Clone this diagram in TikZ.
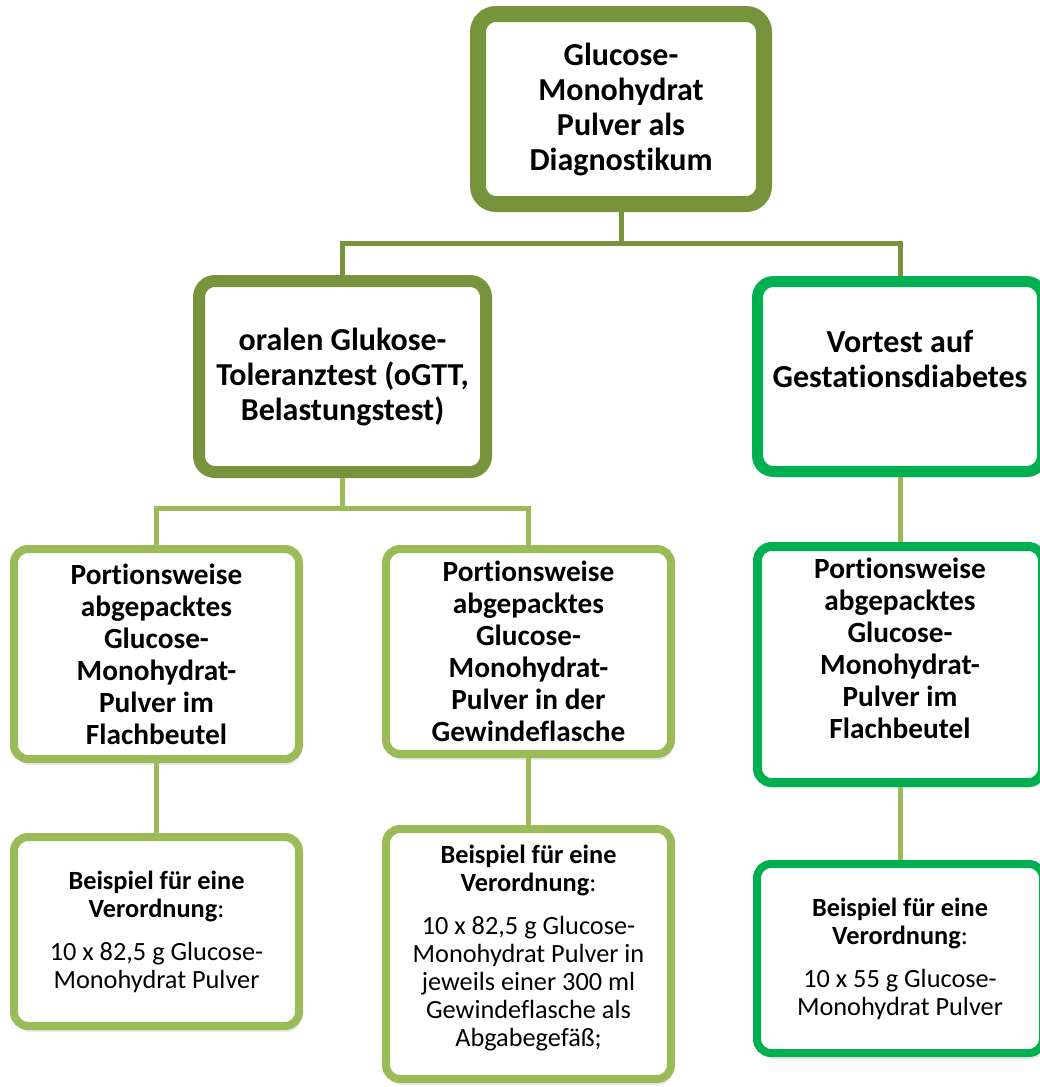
\documentclass[tikz,border=0pt]{standalone}
\usepackage{fontspec}
\setmainfont{Carlito}[Ligatures=NoCommon]
\usetikzlibrary{shadows}
\definecolor{oliveD}{HTML}{77933C}
\definecolor{oliveL}{HTML}{9BBB59}
\definecolor{greenG}{HTML}{00B050}
\newcommand{\hfont}{\fontsize{32}{35}\selectfont\bfseries}
\newcommand{\mfont}{\fontsize{29.3}{32}\selectfont\bfseries}
\newcommand{\sfont}{\fontsize{26.3}{28}\selectfont}
\tikzset{
  box/.style={draw, fill=white, rounded corners=#1, align=center, inner sep=0pt,
    drop shadow={shadow xshift=2pt, shadow yshift=-6pt, opacity=0.18}},
  connD/.style={draw=oliveD, line width=5pt},
  connL/.style={draw=oliveL, line width=5pt},
}
\begin{document}
\begin{tikzpicture}[x=1pt,y=-1pt]
\useasboundingbox (0,0) rectangle (1040,1087);
% level 1
\node[box=18pt, draw=oliveD, line width=16pt, minimum width=286pt, minimum height=190pt, font=\hfont]
  (top) at (621,109) {Glucose-\\Monohydrat\\Pulver als\\Diagnostikum};
% level 2
\node[box=16pt, draw=oliveD, line width=12pt, minimum width=287pt, minimum height=191pt, font=\hfont]
  (ogtt) at (342.5,376.5) {oralen Glukose-\\Toleranztest (oGTT,\\Belastungstest)};
\node[box=16pt, draw=greenG, line width=11pt, minimum width=285pt, minimum height=190pt, font=\hfont]
  (vor) at (900,376.5) {Vortest auf\\Gestationsdiabetes\\\mbox{}};
% level 3
\node[box=14pt, draw=oliveL, line width=8pt, minimum width=285pt, minimum height=210pt, font=\mfont]
  (r3l) at (156.5,654) {Portionsweise\\abgepacktes\\Glucose-\\Monohydrat-\\Pulver im\\Flachbeutel};
\node[box=14pt, draw=oliveL, line width=8pt, minimum width=285pt, minimum height=205pt, font=\mfont]
  (r3m) at (528.5,651.5) {Portionsweise\\abgepacktes\\Glucose-\\Monohydrat-\\Pulver in der\\Gewindeflasche};
\node[box=14pt, draw=greenG, line width=9pt, minimum width=285pt, minimum height=236pt, font=\mfont]
  (r3r) at (900,664.5) {Portionsweise\\abgepacktes\\Glucose-\\Monohydrat-\\Pulver im\\Flachbeutel\\\mbox{}};
% level 4
\node[box=14pt, draw=oliveL, line width=8pt, minimum width=285pt, minimum height=189pt, font=\sfont]
  (r4l) at (156.5,931.5) {\textbf{Beispiel für eine}\\\textbf{Verordnung}:\\[15pt]10 x 82,5 g Glucose-\\Monohydrat Pulver};
\node[box=14pt, draw=oliveL, line width=8pt, minimum width=285pt, minimum height=250pt, font=\sfont]
  (r4m) at (528.5,954) {\textbf{Beispiel für eine}\\\textbf{Verordnung}:\\[15pt]10 x 82,5 g Glucose-\\Monohydrat Pulver in\\jeweils einer 300 ml\\Gewindeflasche als\\Abgabegefäß;\\[-12pt]\mbox{}};
\node[box=14pt, draw=greenG, line width=8pt, minimum width=286pt, minimum height=189pt, font=\sfont]
  (r4r) at (900,958.5) {\textbf{Beispiel für eine}\\\textbf{Verordnung}:\\[15pt]10 x 55 g Glucose-\\Monohydrat Pulver};
% connectors
\path (top.south) ++(0,31) coordinate (hub1);
\path (ogtt.south) ++(0,30) coordinate (hub2);
\draw[connD] (top.south) -- (hub1);
\draw[connD] (ogtt.north) |- (hub1) -| (vor.north);
\draw[connL] (ogtt.south) -- (hub2);
\draw[connL] (r3l.north) |- (hub2) -| (r3m.north);
\draw[connL] (vor.south) -- (r3r.north);
\draw[connL] (r3l.south) -- (r4l.north);
\draw[connL] (r3m.south) -- (r4m.north);
\draw[connL] (r3r.south) -- (r4r.north);
\end{tikzpicture}
\end{document}
